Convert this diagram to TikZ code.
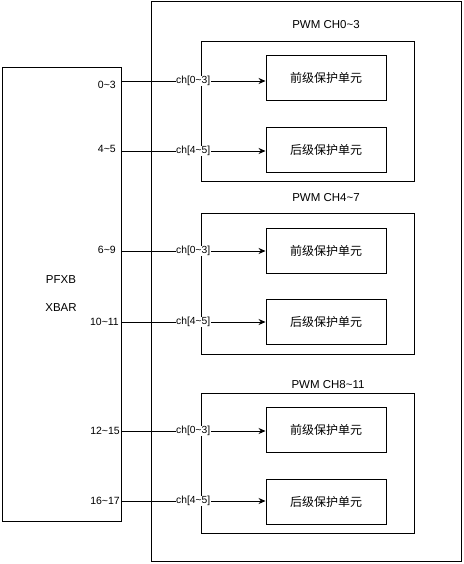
\documentclass[tikz,border=0pt]{standalone}
\usepackage{fontspec}
\setmainfont{Liberation Sans}
\newfontfamily\cjk{Noto Sans CJK SC}
\usetikzlibrary{arrows.meta}
\newcommand{\tl}{\textasciitilde}
\tikzset{
  box/.style={draw, line width=0.9pt, inner sep=0pt},
  unit/.style={box, minimum width=120pt, minimum height=45pt, font=\cjk\fontsize{12}{14}\selectfont},
  pwm/.style={box, minimum width=213pt, minimum height=140pt},
  title/.style={font=\fontsize{11.5}{13}\selectfont},
  port/.style={anchor=east, inner sep=0pt, font=\fontsize{10.5}{12}\selectfont},
  conn/.style={line width=0.8pt, -{Stealth[length=7pt,width=6pt]}},
  chl/.style={fill=white, inner sep=0.5pt, font=\fontsize{10.3}{12}\selectfont}
}
\begin{document}
\begin{tikzpicture}[x=1pt,y=-1pt]
\useasboundingbox (0,0) rectangle (463,564);
\node[box, minimum width=310pt, minimum height=560pt] (outer) at (306,281) {};
\node[box, minimum width=119pt, minimum height=454pt] (xbar) at (61.5,294) {};
\node[title] (pfxb) at (61,280) {PFXB};
\node[title] (xbt) at (61,308) {XBAR};

\node[pwm] (g1) at (307.5,111) {};
\node[pwm, minimum height=141pt] (g2) at (307.5,283.5) {};
\node[pwm] (g3) at (307.5,463) {};
\node[title] (t1) at (326,25) {PWM CH0\tl3};
\node[title] (t2) at (326,198) {PWM CH4\tl7};
\node[title] (t3) at (328,385) {PWM CH8\tl11};

\node[unit] (f1) at (326,77.5) {前级保护单元};
\node[unit] (b1) at (326,149.5) {后级保护单元};
\node[unit] (f2) at (326,250.5) {前级保护单元};
\node[unit] (b2) at (326,321.5) {后级保护单元};
\node[unit] (f3) at (326,429.5) {前级保护单元};
\node[unit] (b3) at (326,501.5) {后级保护单元};

\coordinate (p1) at (121,81);
\coordinate (p2) at (121,151);
\coordinate (p3) at (121,251);
\coordinate (p4) at (121,322);
\coordinate (p5) at (121,431);
\coordinate (p6) at (121,501);

\node[port] (l1) at (116,85) {0\tl3};
\node[port] (l2) at (116,149) {4\tl5};
\node[port] (l3) at (116,250) {6\tl9};
\node[port] (l4) at (119,322) {10\tl11};
\node[port] (l5) at (120,431) {12\tl15};
\node[port] (l6) at (120,501) {16\tl17};

\draw[conn] (p1) -- node[chl, pos=0.5]{ch[0\tl3]} (p1 -| f1.west);
\draw[conn] (p2) -- node[chl, pos=0.5]{ch[4\tl5]} (p2 -| b1.west);
\draw[conn] (p3) -- node[chl, pos=0.5]{ch[0\tl3]} (p3 -| f2.west);
\draw[conn] (p4) -- node[chl, pos=0.5]{ch[4\tl5]} (p4 -| b2.west);
\draw[conn] (p5) -- node[chl, pos=0.5]{ch[0\tl3]} (p5 -| f3.west);
\draw[conn] (p6) -- node[chl, pos=0.5]{ch[4\tl5]} (p6 -| b3.west);
\end{tikzpicture}
\end{document}
